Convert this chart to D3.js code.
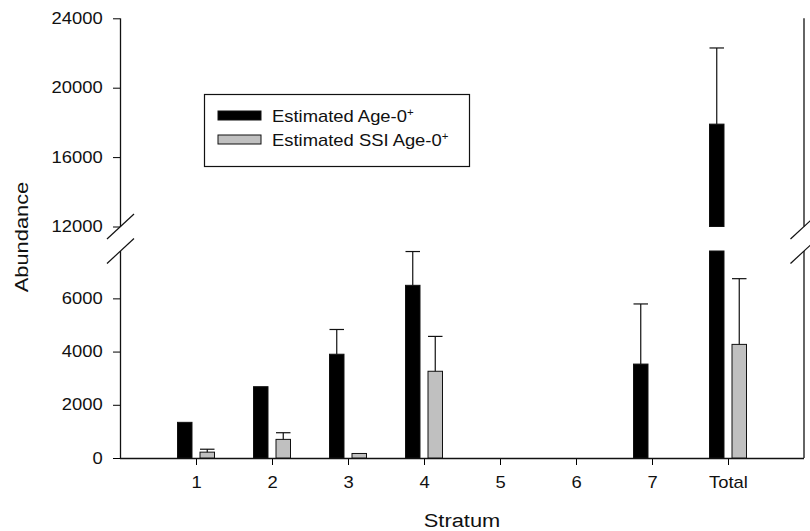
<!DOCTYPE html>
<html lang="en">
<head>
  <meta charset="UTF-8">
  <title>Abundance by Stratum</title>
  <script src="https://d3js.org/d3.v7.min.js"></script>
  <style>
    body { margin: 0; background: #fff; }
    svg text { font-family: "Liberation Sans", Arial, sans-serif; fill: #111; }
  </style>
</head>
<body>
  <div id="chart"></div>

  <script>
    // data
    const categories = ["1", "2", "3", "4", "5", "6", "7", "Total"];
    const age0 = [1340, 2680, 3900, 6490, null, null, 3530, 17900];
    const age0Upper = [1340, 2680, 4830, 7760, null, null, 5790, 22290];
    const ssiAge0 = [220, 700, 170, 3260, null, null, null, 4270];
    const ssiAge0Upper = [330, 950, 170, 4570, null, null, null, 6740];
    const lowTicks = [0, 2000, 4000, 6000];
    const highTicks = [12000, 16000, 20000, 24000];
    const seriesNames = ["Estimated Age-0", "Estimated SSI Age-0"];
    const seriesColors = ["#000000", "#c0c0c0"];

    const width = 810, height = 531;
    const left = 120, right = 804, bottom = 458;
    const stretch = "scale(1.15,1)"; // the original lettering is a little wide

    const svg = d3.select("#chart").append("svg")
      .attr("width", width)
      .attr("height", height);

    const x = d3.scaleLinear().domain([0, categories.length + 1]).range([left, right]);
    const inner = d3.scaleBand().domain([0, 1]).range([-18.5, 18.5]).paddingInner(0.356);

    // broken y axis: two segments
    const yLow = d3.scaleLinear().domain([0, 7780]).range([bottom, 251]);
    const yHigh = d3.scaleLinear().domain([12000, 24000]).range([226.5, 18.3]);
    const lowMax = yLow.domain()[1];

    // axes
    const yAxisLow = svg.append("g")
      .attr("transform", `translate(${left},0)`)
      .call(d3.axisLeft(yLow).tickValues(lowTicks).tickSize(7).tickPadding(8).tickFormat(d3.format("d")));
    const yAxisHigh = svg.append("g")
      .attr("transform", `translate(${left},0)`)
      .call(d3.axisLeft(yHigh).tickValues(highTicks).tickSize(7).tickPadding(8).tickFormat(d3.format("d")));
    [yAxisLow, yAxisHigh].forEach(g => {
      g.select(".domain").remove();
      g.selectAll("text").style("font-size", "16px").attr("transform", stretch);
    });

    const xAxis = svg.append("g")
      .attr("transform", `translate(0,${bottom})`)
      .call(d3.axisBottom(x).tickValues(d3.range(1, categories.length + 1))
        .tickSize(7).tickPadding(12).tickFormat(i => categories[i - 1]));
    xAxis.select(".domain").remove();
    xAxis.selectAll("text").style("font-size", "16px").attr("transform", stretch);

    // axis lines, left and right, each in two pieces
    const segs = [[yLow.range()[0], yLow.range()[1]], [yHigh.range()[0], yHigh.range()[1]]];
    [left + 0.5, right].forEach(px => {
      segs.forEach(s => {
        svg.append("line")
          .attr("x1", px).attr("x2", px)
          .attr("y1", s[0]).attr("y2", s[1])
          .attr("stroke", "#111").attr("stroke-width", 1.3);
      });
      // break marks
      [yHigh.range()[0], yLow.range()[1]].forEach(py => {
        svg.append("line")
          .attr("x1", px - 13.5).attr("y1", py + 12.5)
          .attr("x2", px + 13.5).attr("y2", py - 12.5)
          .attr("stroke", "#111").attr("stroke-width", 1.2);
      });
    });
    svg.append("line")
      .attr("x1", left).attr("x2", right)
      .attr("y1", bottom + 0.5).attr("y2", bottom + 0.5)
      .attr("stroke", "#111").attr("stroke-width", 1.3);

    // bars
    const series = [
      {values: age0, upper: age0Upper},
      {values: ssiAge0, upper: ssiAge0Upper}
    ];

    function yOf(v) { return v > lowMax ? yHigh(v) : yLow(v); }

    series.forEach((s, si) => {
      const g = svg.append("g");
      s.values.forEach((v, i) => {
        if (v == null) return;
        const bx = x(i + 1) + inner(si);
        const bw = inner.bandwidth();
        const pieces = v > lowMax
          ? [[0, lowMax, yLow], [yHigh.domain()[0], v, yHigh]]
          : [[0, v, yLow]];
        pieces.forEach(p => {
          g.append("rect")
            .attr("x", bx).attr("width", bw)
            .attr("y", p[2](p[1]))
            .attr("height", p[2](p[0]) - p[2](p[1]))
            .attr("fill", seriesColors[si])
            .attr("stroke", "#111").attr("stroke-width", 1);
        });
        const up = s.upper[i];
        if (up != null && up > v) {
          const cx = bx + bw / 2;
          g.append("line")
            .attr("x1", cx).attr("x2", cx)
            .attr("y1", yOf(v)).attr("y2", yOf(up))
            .attr("stroke", "#111").attr("stroke-width", 1.2);
          g.append("line")
            .attr("x1", bx).attr("x2", bx + bw)
            .attr("y1", yOf(up)).attr("y2", yOf(up))
            .attr("stroke", "#111").attr("stroke-width", 1.2);
        }
      });
    });

    // legend
    const legend = svg.append("g").attr("transform", "translate(204,94)");
    legend.append("rect")
      .attr("x", 0.5).attr("y", 0.5).attr("width", 265).attr("height", 72)
      .attr("fill", "#fff").attr("stroke", "#111").attr("stroke-width", 1.2);
    seriesNames.forEach((name, i) => {
      const row = legend.append("g").attr("transform", `translate(14,${17 + i * 24})`);
      row.append("rect")
        .attr("width", 43).attr("height", 9)
        .attr("fill", seriesColors[i]).attr("stroke", "#111").attr("stroke-width", 1);
      const t = row.append("text")
        .attr("transform", `translate(54,11) ${stretch}`)
        .style("font-size", "16px")
        .text(name);
      t.append("tspan").attr("dy", -6).style("font-size", "10px").text("+");
    });

    // axis titles
    svg.append("text")
      .attr("transform", `translate(28,237) rotate(-90) ${stretch}`)
      .attr("text-anchor", "middle")
      .style("font-size", "19px")
      .text("Abundance");
    svg.append("text")
      .attr("transform", `translate(462,527) ${stretch}`)
      .attr("text-anchor", "middle")
      .style("font-size", "19px")
      .text("Stratum");
  </script>
</body>
</html>
